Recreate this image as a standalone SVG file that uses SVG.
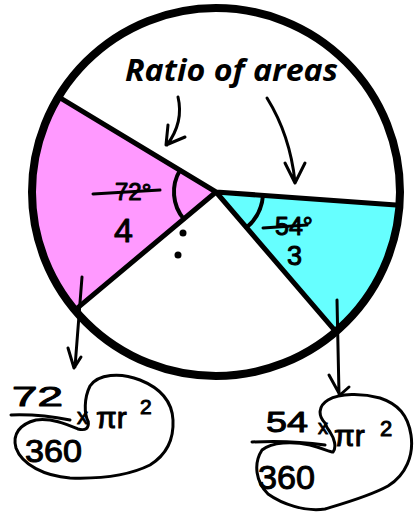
<svg xmlns="http://www.w3.org/2000/svg" width="418" height="516" viewBox="0 0 418 516">
<style>
.hand{font-family:"Liberation Sans","DejaVu Sans",sans-serif;fill:#000;stroke:#000;stroke-width:1;stroke-linejoin:round}
.ln{fill:none;stroke:#000;stroke-linecap:round;stroke-linejoin:round}
.pen{fill:none;stroke:#000;stroke-width:3;stroke-linecap:round;stroke-linejoin:round}
</style>
<rect width="418" height="516" fill="#fff"/>
<g id="pie">
  <path d="M216,192 L58.5,96.9 A184,184 0 0 0 74.9,310.1 Z" fill="#FF99FF"/>
  <path d="M216,192 L399.5,205.2 A184,184 0 0 1 335.8,331.7 Z" fill="#66FFFF"/>
  <path class="ln" stroke-width="5" d="M58.5,96.9 L216,192 L399.5,205.2 M74.9,310.1 L216,192 L335.8,331.7"/>
  <path class="ln" stroke-width="4" d="M180,170.3 A42,42 0 0 0 183.8,219"/>
  <path class="ln" stroke-width="4" d="M263,195.4 A47,47 0 0 1 246.6,227.6"/>
  <circle cx="216" cy="192" r="184" fill="none" stroke="#000" stroke-width="8"/>
  <circle cx="183" cy="233" r="3.5" fill="#000"/>
  <circle cx="178" cy="255" r="3.5" fill="#000"/>
</g>
<g id="title">
  <text x="125" y="81" font-family="'Open Sans','DejaVu Sans',sans-serif" font-weight="bold" font-style="italic" font-size="31" textLength="213" lengthAdjust="spacingAndGlyphs" fill="#000">Ratio of areas</text>
</g>
<g id="pink-label">
  <text class="hand" x="115" y="200" font-size="24">72°</text>
  <path class="pen" d="M93,194 L160,190"/>
  <text class="hand" x="114" y="242" font-size="34">4</text>
</g>
<g id="cyan-label">
  <text class="hand" x="275" y="235" font-size="25">54°</text>
  <path class="pen" d="M263,228 L307,225"/>
  <text class="hand" x="287" y="265" font-size="27">3</text>
</g>
<g id="fraction-left">
  <text class="hand" x="12" y="406" font-size="28" textLength="51" lengthAdjust="spacingAndGlyphs">72</text>
  <path class="pen" d="M11,415 Q40,414 70,420"/>
  <text class="hand" x="77" y="424" font-size="22">x</text>
  <text class="hand" x="96" y="428" font-size="30">πr</text>
  <text class="hand" x="140" y="414" font-size="21">2</text>
  <text class="hand" x="25" y="462" font-size="31" textLength="57" lengthAdjust="spacingAndGlyphs">360</text>
  <path class="pen" d="M88.3,421.7 C84,414 84,398 90,386 C98,374 120,372 140,380 C160,388 172,400 173,420 C174,440 166,455 150,465 C130,475 100,479 70,478 C45,476 22,465 16,448 C12,434 20,424 36,420 C52,418 66,424 78,429 C86,431 89,428 88.3,421.7"/>
</g>
<g id="fraction-right">
  <text class="hand" x="266" y="432" font-size="30" textLength="42" lengthAdjust="spacingAndGlyphs">54</text>
  <path class="pen" d="M252,442 Q290,440 325,445"/>
  <text class="hand" x="318" y="434" font-size="20">x</text>
  <text class="hand" x="334" y="446" font-size="30">πr</text>
  <text class="hand" x="380" y="436" font-size="22">2</text>
  <text class="hand" x="258" y="489" font-size="34" textLength="57" lengthAdjust="spacingAndGlyphs">360</text>
  <path class="pen" d="M325,423 C318,416 318,406 328,400 C340,393 362,393 380,398 C398,404 408,415 411,435 C414,455 406,475 388,486 C370,496 345,503 325,509 C305,512 282,504 268,494 C256,482 253,464 262,450 C272,442 292,441 310,445 C322,448 330,452 333,452 C337,447 334,438 330,432 C327,428 326,426 325,423"/>
</g>
<g id="connectors">
  <path class="pen" d="M178,97 Q184,122 167,145 M168,125 L166,145 L185,137"/>
  <path class="pen" d="M267,98 Q290,135 295,182 M285,163 L295,183 L305,163"/>
  <path class="pen" d="M82,277 L75,367 M68,348 L74,368 L81,357"/>
  <path class="pen" d="M337,300 L339,394 M329,375 L340,395 L349,387"/>
</g>
</svg>
